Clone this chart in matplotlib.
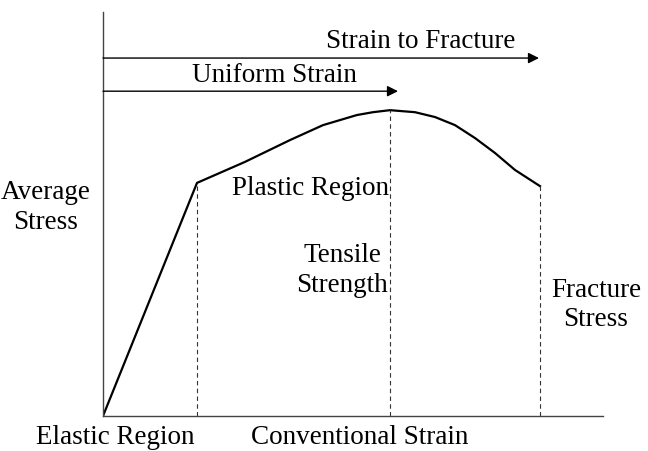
import matplotlib
matplotlib.use("Agg")
import matplotlib.pyplot as plt

# stress-strain curve (arbitrary units)
strain = [0, 1.88, 2.84, 3.74, 4.40, 5.08, 5.40, 5.74, 6.24, 6.64, 7.04, 7.44, 7.84, 8.24, 8.74]
stress = [0, 5.77, 6.29, 6.83, 7.20, 7.45, 7.52, 7.57, 7.52, 7.40, 7.20, 6.88, 6.51, 6.09, 5.69]

# dashed markers: yield, tensile strength, fracture
mark_x = [1.88, 5.74, 8.74]
mark_y = [5.77, 7.57, 5.69]

# arrows: (label, end strain, height)
arrow_labels = ["Strain to Fracture", "Uniform Strain"]
arrow_end = [8.72, 5.90]
arrow_y = [8.86, 8.04]

plt.rcParams['font.family'] = ['Liberation Serif', 'DejaVu Serif']

fig = plt.figure(figsize=(6.48, 4.51), dpi=100)
ax = fig.add_axes([103/648, 35/451, 500/648, 404/451])
ax.set_xlim(0, 10)
ax.set_ylim(0, 10)

ax.plot(strain, stress, color='black', lw=1.6, solid_joinstyle='round')
for x, y in zip(mark_x, mark_y):
    ax.plot([x, x], [0, y], color='#333333', lw=0.8, ls=(0, (4, 3)))

for lab, xe, ya in zip(arrow_labels, arrow_end, arrow_y):
    ax.annotate('', xy=(xe, ya), xytext=(0, ya),
                arrowprops=dict(arrowstyle='-|>', color='black', lw=1.0,
                                mutation_scale=16, shrinkA=0, shrinkB=0))

fs = 19.5
ax.text(6.36, 9.26, "Strain to Fracture", ha='center', va='center', fontsize=fs)
ax.text(3.42, 8.44, "Uniform Strain", ha='center', va='center', fontsize=fs)
ax.text(-1.14, 5.17, "Average\nStress", ha='center', va='center', fontsize=fs,
        linespacing=1.25, clip_on=False)
ax.text(4.14, 5.62, "Plastic Region", ha='center', va='center', fontsize=fs)
ax.text(4.78, 3.61, "Tensile\nStrength", ha='center', va='center', fontsize=fs,
        linespacing=1.25)
ax.text(9.86, 2.75, "Fracture\nStress", ha='center', va='center', fontsize=fs,
        linespacing=1.25, clip_on=False)
ax.text(0.24, -0.52, "Elastic Region", ha='center', va='center', fontsize=fs,
        clip_on=False)
ax.text(5.14, -0.52, "Conventional Strain", ha='center', va='center', fontsize=fs,
        clip_on=False)

for s in ['top', 'right']:
    ax.spines[s].set_visible(False)
for s in ['left', 'bottom']:
    ax.spines[s].set_color('#444444')
    ax.spines[s].set_linewidth(1.0)
ax.set_xticks([])
ax.set_yticks([])
ax.patch.set_alpha(0)

fig.savefig("out.png", dpi=100)
